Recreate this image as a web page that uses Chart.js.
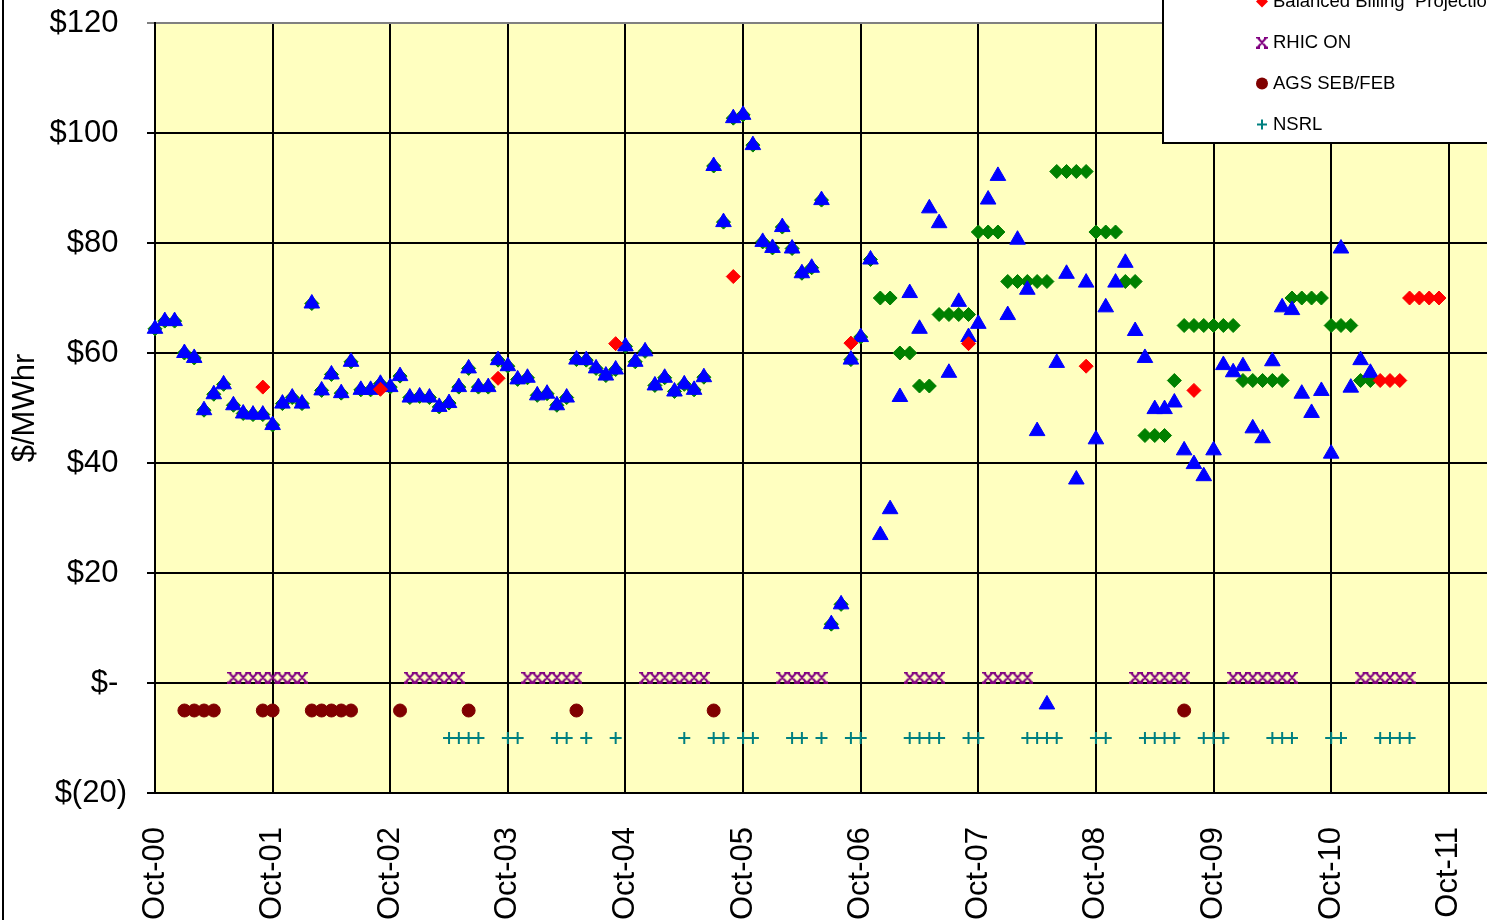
<!DOCTYPE html>
<html>
<head>
<meta charset="utf-8">
<title>$/MWhr</title>
<script src="https://cdn.jsdelivr.net/npm/chart.js@4.4.1/dist/chart.umd.min.js"></script>
<style>
  html, body { margin: 0; padding: 0; overflow: hidden; background: #fff; }
  #wrap { position: absolute; left: 0; top: 0; width: 1498px; height: 920px; }
  canvas { display: block; }
</style>
</head>
<body>
<div id="wrap"><canvas id="chart" width="1498" height="920"></canvas></div>
<script>
// --- Datos (x = meses desde Oct-00) ---
const X_TICK_LABELS = ['Oct-00','Oct-01','Oct-02','Oct-03','Oct-04','Oct-05',
                       'Oct-06','Oct-07','Oct-08','Oct-09','Oct-10','Oct-11'];
const Y_TICKS = [-20, 0, 20, 40, 60, 80, 100, 120];
const Y_TICK_LABELS = ['$(20)', '$- ', '$20 ', '$40 ', '$60 ', '$80 ', '$100 ', '$120 '];

// triangulos azules, un valor por mes desde Oct-00
const ACTUAL = [
  64.4, 65.8, 65.8, 60.0, 59.1, 49.6, 52.5, 54.3, 50.5, 49.0, 48.8, 48.8,
  46.9, 50.8, 51.9, 50.8, 69.0, 53.2, 56.1, 52.7, 58.4, 53.3, 53.3, 54.4,
  53.8, 55.8, 51.9, 52.1, 51.9, 50.2, 50.9, 53.8, 57.2, 53.8, 53.8, 58.7,
  57.6, 55.2, 55.5, 52.3, 52.6, 50.5, 51.9, 58.8, 58.7, 57.2, 55.9, 57.0,
  61.2, 58.4, 60.3, 54.1, 55.5, 53.0, 54.3, 53.3, 55.6, 94.0, 83.8, 102.7,
  103.3, 97.8, 80.2, 79.1, 82.9, 79.0, 74.5, 75.5, 87.8, 10.7, 14.3, 58.8,
  62.9, 77.0, 26.9, 31.6, 52.0, 70.9, 64.4, 86.3, 83.6, 56.4, 69.3, 62.9,
  65.3, 87.9, 92.2, 66.9, 80.6, 71.5, 45.8, -3.9, 58.2, 74.4, 37.0, 72.8,
  44.3, 68.3, 72.8, 76.4, 64.0, 59.1, 49.8, 49.8, 51.0, 42.3, 39.8, 37.6,
  42.3, 57.8, 56.5, 57.6, 46.3, 44.5, 58.5, 68.3, 67.8, 52.6, 49.1, 53.1,
  41.7, 79.0, 53.7, 58.7, 56.4
];

// rombos verdes (quedan detras de los triangulos hasta Oct-06)
const BUDGET = [
  64.4, 65.8, 65.8, 60.0, 59.1, 49.6, 52.5, 54.3, 50.5, 49.0, 48.8, 48.8,
  46.9, 50.8, 51.9, 50.8, 69.0, 53.2, 56.1, 52.7, 58.4, 53.3, 53.3, 54.4,
  53.8, 55.8, 51.9, 52.1, 51.9, 50.2, 50.9, 53.8, 57.2, 53.8, 53.8, 58.7,
  57.6, 55.2, 55.5, 52.3, 52.6, 50.5, 51.9, 58.8, 58.7, 57.2, 55.9, 57.0,
  61.2, 58.4, 60.3, 54.1, 55.5, 53.0, 54.3, 53.3, 55.6, 94.0, 83.8, 102.7,
  103.3, 97.8, 80.2, 79.1, 82.9, 79.0, 74.5, 75.5, 87.8, 10.7, 14.3, 58.8,
  62.9, 77.0, 70, 70, 60, 60, 54, 54, 67, 67, 67, 67,
  82, 82, 82, 73, 73, 73, 73, 73, 93, 93, 93, 93,
  82, 82, 82, 73, 73, 45, 45, 45, 55, 65, 65, 65,
  65, 65, 65, 55, 55, 55, 55, 55, 70, 70, 70, 70,
  65, 65, 65, 55, 55
];

const BB_MONTHS = [11, 23, 35, 47, 59, 71, 83, 95, 106, 125, 126, 127, 128, 129, 130, 131];
const BB_VALUES = [53.8, 53.4, 55.4, 61.7, 73.9, 61.8, 61.7, 57.6, 53.2, 55, 55, 55, 70, 70, 70, 70];

const RHIC_MONTHS = [8, 9, 10, 11, 12, 13, 14, 15, 26, 27, 28, 29, 30, 31,
  38, 39, 40, 41, 42, 43, 50, 51, 52, 53, 54, 55, 56, 64, 65, 66, 67, 68,
  77, 78, 79, 80, 85, 86, 87, 88, 89, 100, 101, 102, 103, 104, 105,
  110, 111, 112, 113, 114, 115, 116, 123, 124, 125, 126, 127, 128];
const RHIC_LEVEL = 1;

const AGS_MONTHS = [3, 4, 5, 6, 11, 12, 16, 17, 18, 19, 20, 25, 32, 43, 57, 105];
const AGS_LEVEL = -5;

const NSRL_MONTHS = [30, 31, 32, 33, 36, 37, 41, 42, 44, 47, 54, 57, 58, 60, 61,
  65, 66, 68, 71, 72, 77, 78, 79, 80, 83, 84, 89, 90, 91, 92, 96, 97,
  101, 102, 103, 104, 107, 108, 109, 114, 115, 116, 120, 121, 125, 126, 127, 128];
const NSRL_LEVEL = -10;

const FONT = 'Arial, "Liberation Sans", sans-serif';
Chart.defaults.font.family = FONT;
Chart.defaults.color = '#000';

const byIndex = arr => arr.map((v, i) => ({ x: i, y: v }));
const atMonths = (months, values) => months.map((m, i) => ({ x: m, y: Array.isArray(values) ? values[i] : values }));

// marcador "x" estilo Excel (con patitas arriba y abajo)
function makeXMarker(color) {
  const c = document.createElement('canvas');
  c.width = 12; c.height = 12;
  const g = c.getContext('2d');
  g.strokeStyle = color;
  g.lineWidth = 2;
  g.beginPath();
  g.moveTo(2, 1.5); g.lineTo(10, 10.5);
  g.moveTo(10, 1.5); g.lineTo(2, 10.5);
  g.moveTo(0, 1); g.lineTo(4, 1); g.moveTo(8, 1); g.lineTo(12, 1);
  g.moveTo(0, 11); g.lineTo(4, 11); g.moveTo(8, 11); g.lineTo(12, 11);
  g.stroke();
  return c;
}
const RHIC_MARK = makeXMarker('#800080');

// fondo amarillo del area de trazado + borde izquierdo del grafico
const plotFrame = {
  id: 'plotFrame',
  beforeDraw(chart) {
    const { ctx, chartArea: a } = chart;
    ctx.save();
    ctx.fillStyle = '#FFFFC0';
    ctx.fillRect(a.left, a.top, a.right - a.left, a.bottom - a.top);
    ctx.restore();
  },
  afterDraw(chart) {
    const { ctx, height } = chart;
    ctx.save();
    ctx.fillStyle = '#000';
    ctx.fillRect(2, 0, 2, height);
    ctx.restore();
  }
};

function drawMarker(ctx, style, x, y, r, color) {
  ctx.save();
  ctx.fillStyle = color;
  ctx.strokeStyle = color;
  ctx.lineWidth = 2;
  ctx.beginPath();
  if (style instanceof HTMLCanvasElement) {
    ctx.drawImage(style, x - style.width / 2, y - style.height / 2);
  } else if (style === 'rectRot') {
    ctx.moveTo(x, y - r); ctx.lineTo(x + r, y); ctx.lineTo(x, y + r); ctx.lineTo(x - r, y);
    ctx.closePath(); ctx.fill();
  } else if (style === 'circle') {
    ctx.arc(x, y, r, 0, Math.PI * 2); ctx.fill();
  } else if (style === 'cross') {
    ctx.moveTo(x - r, y); ctx.lineTo(x + r, y);
    ctx.moveTo(x, y - r); ctx.lineTo(x, y + r);
    ctx.stroke();
  }
  ctx.restore();
}

// leyenda en recuadro (la parte de arriba queda fuera de la imagen)
const LEGEND_SERIES = ['Balanced Billing  Projection', 'RHIC ON', 'AGS SEB/FEB', 'NSRL'];
const boxLegend = {
  id: 'boxLegend',
  afterDraw(chart) {
    const { ctx, width } = chart;
    const left = 1163, bottom = 143;
    ctx.save();
    ctx.fillStyle = '#fff';
    ctx.fillRect(left, -10, width - left + 10, bottom + 10);
    ctx.strokeStyle = '#000';
    ctx.lineWidth = 2;
    ctx.strokeRect(left, -10, width - left + 10, bottom + 10);
    ctx.font = '18.5px ' + FONT;
    ctx.textBaseline = 'middle';
    LEGEND_SERIES.forEach((label, row) => {
      const ds = chart.data.datasets.find(d => d.label === label);
      const y = 1.5 + row * 41;
      drawMarker(ctx, ds.pointStyle, 1262, y, ds.legendRadius, ds.borderColor);
      ctx.fillStyle = '#000';
      ctx.fillText(label, 1273, y);
    });
    ctx.restore();
  }
};

new Chart(document.getElementById('chart'), {
  type: 'scatter',
  data: {
    datasets: [
      { label: 'Actual', data: byIndex(ACTUAL), order: 2, clip: false,
        pointStyle: 'triangle', pointRadius: 9, backgroundColor: '#0000FF', borderColor: '#0000FF', borderWidth: 1 },
      { label: 'Budget', data: byIndex(BUDGET), order: 3, clip: false,
        pointStyle: 'rectRot', pointRadius: 7, backgroundColor: '#008000', borderColor: '#008000', borderWidth: 1 },
      { label: 'Balanced Billing  Projection', data: atMonths(BB_MONTHS, BB_VALUES), order: 1, clip: false,
        pointStyle: 'rectRot', pointRadius: 7, backgroundColor: '#FF0000', borderColor: '#FF0000', borderWidth: 1, legendRadius: 6 },
      { label: 'RHIC ON', data: atMonths(RHIC_MONTHS, RHIC_LEVEL), order: 0, clip: false,
        pointStyle: RHIC_MARK, borderColor: '#800080', backgroundColor: '#800080', legendRadius: 6 },
      { label: 'AGS SEB/FEB', data: atMonths(AGS_MONTHS, AGS_LEVEL), order: 0, clip: false,
        pointStyle: 'circle', pointRadius: 6.5, backgroundColor: '#800000', borderColor: '#800000', borderWidth: 1, legendRadius: 6 },
      { label: 'NSRL', data: atMonths(NSRL_MONTHS, NSRL_LEVEL), order: 0, clip: false,
        pointStyle: 'cross', pointRadius: 6, borderColor: '#008080', backgroundColor: '#008080', borderWidth: 2, legendRadius: 5 }
    ]
  },
  options: {
    responsive: false,
    animation: false,
    events: [],
    layout: { padding: { top: 23, right: 0, bottom: 0, left: 0 } },
    plugins: { legend: { display: false }, tooltip: { enabled: false } },
    scales: {
      x: {
        type: 'linear',
        min: 0,
        max: 136,
        afterBuildTicks: s => { s.ticks = X_TICK_LABELS.map((_, i) => ({ value: i * 12 })); },
        afterFit: s => { s.height = 127; s.paddingLeft = 0; s.paddingRight = 0; },
        ticks: {
          autoSkip: false, minRotation: 90, maxRotation: 90, padding: 34,
          font: { size: 31 }, color: '#000',
          callback: v => X_TICK_LABELS[v / 12]
        },
        grid: { color: '#000', lineWidth: 2, drawTicks: false },
        border: { color: '#000', width: 2 }
      },
      y: {
        min: -20,
        max: 120,
        afterBuildTicks: s => { s.ticks = Y_TICKS.map(v => ({ value: v })); },
        afterFit: s => { s.width = 155; s.paddingTop = 0; s.paddingBottom = 0; },
        ticks: {
          padding: 20, font: { size: 31 }, color: '#000',
          callback: v => Y_TICK_LABELS[Y_TICKS.indexOf(v)]
        },
        grid: {
          color: c => (c.tick && c.tick.value === 120) ? '#808080' : '#000',
          lineWidth: 2, tickLength: 8
        },
        border: { color: '#000', width: 2 },
        title: { display: true, text: '$/MWhr', font: { size: 31 }, color: '#000', padding: { top: 7, bottom: 0 } }
      }
    }
  },
  plugins: [plotFrame, boxLegend]
});
</script>
</body>
</html>
